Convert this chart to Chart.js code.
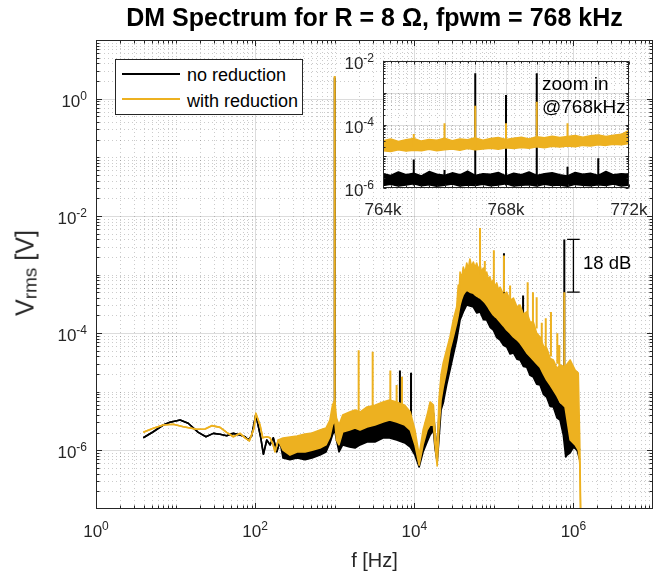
<!DOCTYPE html>
<html><head><meta charset="utf-8">
<script src="https://cdn.jsdelivr.net/npm/chart.js@4.4.1/dist/chart.umd.min.js"></script>
<style>
html,body{margin:0;padding:0;background:#fff;}
#wrap{position:relative;width:657px;height:573px;overflow:hidden;font-family:"Liberation Sans",Arial,Helvetica,sans-serif;color:#262626;}
canvas{position:absolute;}
.t{position:absolute;white-space:nowrap;line-height:1;}
</style></head><body>
<div id="wrap">
<canvas id="main" width="657" height="573" style="left:0;top:0;width:657px;height:573px"></canvas>
<canvas id="inset" width="327" height="180" style="left:330px;top:45px;width:327px;height:180px"></canvas>
<div class="t" style="left:96px;width:557px;text-align:center;top:5px;font-size:25px;font-weight:bold;color:#000">DM Spectrum for R = 8 Ω, fpwm = 768 kHz</div>
<div class="t" style="left:96px;width:557px;text-align:center;top:550px;font-size:20px;">f [Hz]</div>
<div class="t" style="left:25px;top:273px;font-size:25px;transform:translate(-50%,-50%) rotate(-90deg);">V<span style="font-size:19px;position:relative;top:3px;">rms</span> [V]</div>
<div style="position:absolute;left:115px;top:59px;width:188px;height:56px;box-sizing:border-box;border:1px solid #262626;background:#fff;">
  <div style="position:absolute;left:6px;top:13px;width:58px;height:2px;background:#000"></div>
  <div class="t" style="left:71px;top:6px;font-size:18px;color:#000">no reduction</div>
  <div style="position:absolute;left:6px;top:38px;width:58px;height:2px;background:#EDB120"></div>
  <div class="t" style="left:71px;top:32px;font-size:18px;color:#000">with reduction</div>
</div>
<div class="t" style="left:542px;top:74px;font-size:19px;color:#000">zoom in</div>
<div class="t" style="left:542px;top:97px;font-size:19px;color:#000">@768kHz</div>
<div class="t" style="left:583px;top:254px;font-size:18.5px;color:#000">18 dB</div>
</div>
<script>
// ---------------- main spectrum: no reduction (black) ----------------
const freqNR = [3.93,5.25,7.0,8.5,11.4,14.4,19.3,24.1,29.8,36.2,43.9,53.2,64.5,74.6,82,90.5,102,117,127,140,154,169,187,205,
 224,274,336,424,519,653,777,870,938,1000,
 1052,1132,1260,1540,1800,2080,2550,3200,4050,4900,
 6000,7600,8900,10200,11500,12900,14500,15800,17400,18200,
 19400,20400,21700,23100,25500,28100,30900,34100,37600,41300,
 45600,50000,55200,61000,67000,74000,81300,90000,98400,108000,
 119800,132000,145000,160000,176000,195000,213000,235000,259000,285000,
 313000,345000,380000,420000,461000,510000,559000,620000,678000,746000,
 800000,830000,910000,1000000,1110000,1200000];
const hiNR = [1.64e-6,2.08e-6,2.71e-6,3.01e-6,3.29e-6,2.90e-6,2.03e-6,1.71e-6,1.95e-6,1.88e-6,1.78e-6,1.95e-6,1.83e-6,1.71e-6,1.50e-6,1.78e-6,4.1e-6,1.71e-6,8.6e-7,1.50e-6,1.24e-6,1.64e-6,9.5e-7,1.41e-6,
 1.24e-6,1.10e-6,1.14e-6,1.01e-6,1.14e-6,1.34e-6,1.50e-6,2.22e-6,3.29e-6,4.0e-6,
 2.70e-6,1.83e-6,2.50e-6,2.70e-6,2.70e-6,2.70e-6,2.93e-6,3.04e-6,3.29e-6,3.29e-6,
 3.04e-6,2.70e-6,2.22e-6,1.50e-6,7.4e-7,1.50e-6,2.40e-6,3.29e-6,4.35e-6,2.22e-6,
 9.4e-7,4.0e-6,1.07e-5,1.20e-5,2.34e-5,5.2e-5,8.6e-5,1.49e-4,3.02e-4,4.5e-4,
 5.4e-4,5.0e-4,4.8e-4,4.4e-4,3.97e-4,3.5e-4,3.02e-4,2.5e-4,2.04e-4,1.75e-4,
 1.55e-4,1.3e-4,1.13e-4,9.5e-5,8.6e-5,7.5e-5,6.8e-5,5.5e-5,4.6e-5,4.0e-5,
 3.48e-5,3.0e-5,2.63e-5,2.0e-5,1.58e-5,1.3e-5,1.07e-5,8.0e-6,5.9e-6,6.7e-6,
 4.9e-6,2.70e-6,1.69e-6,2.50e-6,1.50e-6,1.01e-6];
const loNR = [1.64e-6,2.08e-6,2.71e-6,3.01e-6,3.29e-6,2.90e-6,2.03e-6,1.71e-6,1.95e-6,1.88e-6,1.78e-6,1.95e-6,1.83e-6,1.71e-6,1.50e-6,1.78e-6,4.1e-6,1.71e-6,8.6e-7,1.50e-6,1.24e-6,1.64e-6,9.5e-7,1.41e-6,
 7.4e-7,6.9e-7,7.4e-7,6.9e-7,7.4e-7,8.3e-7,9.4e-7,1.34e-6,1.83e-6,2.22e-6,
 1.50e-6,9.4e-7,1.24e-6,1.14e-6,1.10e-6,1.24e-6,1.39e-6,1.39e-6,1.63e-6,1.63e-6,
 1.50e-6,1.34e-6,1.14e-6,8.3e-7,5.2e-7,9.4e-7,1.39e-6,1.83e-6,2.22e-6,1.10e-6,
 6.3e-7,1.50e-6,4.9e-6,6.4e-6,1.30e-5,2.34e-5,4.2e-5,7.6e-5,1.67e-4,2.30e-4,
 3.02e-4,2.90e-4,2.79e-4,2.2e-4,2.30e-4,1.7e-4,1.67e-4,1.25e-4,1.13e-4,8.5e-5,
 7.6e-5,6.2e-5,5.8e-5,4.4e-5,4.6e-5,3.6e-5,3.48e-5,2.7e-5,2.63e-5,1.9e-5,
 1.78e-5,1.35e-5,1.30e-5,9.0e-6,8.1e-6,5.6e-6,5.5e-6,3.6e-6,3.29e-6,1.83e-6,
 7.7e-7,8.3e-7,9.1e-7,1.14e-6,1.01e-6,6.9e-7];
const spikeFreqNR = [1000,6600,9100,134000,233000,768000,1110000];
const spikeTopNR  = [2.3,2.3e-5,2.1e-5,2.3e-3,4.4e-4,3.97e-3,2.2e-5];
const spikeBaseNR = [3.0e-6,3.0e-6,2.5e-6,1.2e-4,5.0e-5,5.0e-6,1.0e-6];

// ---------------- main spectrum: with reduction (orange) ----------------
const freqWR = [3.93,5.25,7.0,9.36,12.5,18.4,23.5,28.5,36.2,43.9,53.2,64.5,74.6,84.5,96.8,102,115,124.5,140,154,166,178,195,
 224,274,336,424,519,653,777,870,938,1000,
 1052,1132,1260,1540,1800,2080,2550,3200,4050,4900,
 6000,7600,8900,10200,11500,12900,14500,15800,17400,18200,
 19400,20400,21700,23100,25500,28100,30900,34100,35700,36600,
 37600,39400,41300,43400,45600,47800,50000,52500,55200,58000,
 60800,64000,67000,70200,73600,77400,81300,85000,89000,93500,
 98400,103000,108600,114000,119800,132000,145000,160000,176000,195000,
 213000,235000,259000,285000,313000,345000,380000,420000,461000,510000,
 559000,620000,678000,784000,910000,1050000,1150000,1200000,1260000];
const hiWR = [2.03e-6,2.38e-6,2.71e-6,2.79e-6,2.53e-6,2.29e-6,2.32e-6,2.64e-6,2.47e-6,2.03e-6,1.71e-6,1.95e-6,1.64e-6,1.45e-6,2.38e-6,4.3e-6,2.71e-6,1.64e-6,1.71e-6,1.64e-6,1.32e-6,9.5e-7,1.50e-6,
 1.63e-6,1.69e-6,1.76e-6,1.90e-6,1.98e-6,2.22e-6,2.40e-6,3.29e-6,5.9e-6,7.2e-6,
 3.57e-6,2.70e-6,4.0e-6,4.5e-6,4.9e-6,4.5e-6,5.5e-6,5.9e-6,6.7e-6,7.2e-6,
 6.7e-6,5.9e-6,4.5e-6,2.22e-6,8.3e-7,2.22e-6,4.0e-6,6.7e-6,5.9e-6,2.22e-6,
 8.3e-7,7.2e-6,1.93e-5,3.1e-5,5.2e-5,8.6e-5,1.67e-4,2.79e-4,6.6e-4,4.8e-4,
 1.10e-3,8.5e-4,1.34e-3,1.05e-3,1.57e-3,1.25e-3,1.84e-3,1.35e-3,1.63e-3,1.30e-3,
 1.57e-3,1.20e-3,1.45e-3,1.10e-3,1.29e-3,1.05e-3,1.10e-3,8.3e-4,9.1e-4,7.2e-4,
 8.1e-4,6.2e-4,7.2e-4,5.5e-4,6.1e-4,4.5e-4,5.0e-4,3.6e-4,3.97e-4,2.8e-4,
 3.02e-4,2.1e-4,2.30e-4,1.55e-4,1.55e-4,1.0e-4,8.6e-5,6.0e-5,5.6e-5,3.7e-5,
 3.48e-5,2.5e-5,2.86e-5,2.64e-5,3.48e-5,2.34e-5,2.08e-5,1.50e-6,1e-8];
const loWR = [2.03e-6,2.38e-6,2.71e-6,2.79e-6,2.53e-6,2.29e-6,2.32e-6,2.64e-6,2.47e-6,2.03e-6,1.71e-6,1.95e-6,1.64e-6,1.45e-6,2.38e-6,4.3e-6,2.71e-6,1.64e-6,1.71e-6,1.64e-6,1.32e-6,9.5e-7,1.50e-6,
 1.01e-6,8.3e-7,9.4e-7,9.4e-7,1.01e-6,1.10e-6,1.24e-6,1.69e-6,2.70e-6,3.29e-6,
 1.50e-6,1.24e-6,2.06e-6,2.22e-6,2.40e-6,2.22e-6,2.50e-6,2.70e-6,3.04e-6,3.29e-6,
 3.04e-6,2.70e-6,2.22e-6,1.24e-6,5.6e-7,1.24e-6,2.22e-6,2.70e-6,2.70e-6,1.24e-6,
 5.4e-7,2.22e-6,7.2e-6,1.20e-5,2.34e-5,5.2e-5,8.6e-5,1.49e-4,2.04e-4,2.5e-4,
 3.02e-4,3.8e-4,4.5e-4,5.0e-4,5.4e-4,5.2e-4,5.0e-4,4.9e-4,4.8e-4,4.5e-4,
 4.3e-4,4.1e-4,3.97e-4,3.75e-4,3.53e-4,3.3e-4,3.02e-4,2.75e-4,2.48e-4,2.25e-4,
 2.04e-4,1.92e-4,1.82e-4,1.68e-4,1.55e-4,1.33e-4,1.13e-4,1.0e-4,8.6e-5,7.7e-5,
 6.8e-5,5.6e-5,4.6e-5,4.0e-5,3.47e-5,3.0e-5,2.63e-5,2.0e-5,1.58e-5,1.3e-5,
 1.07e-5,8.5e-6,6.7e-6,5.5e-6,1.50e-6,1.24e-6,1.01e-6,6.1e-7,1e-8];
const spikeFreqWR = [1000,2000,3000,5000,6000,7000,67000,77000,100000,134000,160000,266000,310000,345000,400000,449000,522000,627000,665000,768000];
const spikeTopWR  = [2.43,5.1e-5,4.8e-5,2.3e-5,1.3e-5,1.8e-5,6.2e-3,1.7e-3,2.6e-3,2.1e-3,6.5e-4,7.4e-4,5.0e-4,4.1e-4,1.5e-4,1.8e-4,2.3e-4,1.0e-4,6.3e-5,5.0e-4];
const spikeBaseWR = [3.3e-6,4.5e-6,5.0e-6,6.0e-6,6.0e-6,6.0e-6,1.0e-3,8.0e-4,6.0e-4,5.0e-4,3.0e-4,2.0e-4,1.5e-4,1.2e-4,6.0e-5,5.0e-5,4.0e-5,3.0e-5,2.8e-5,2.5e-5];

// 18 dB marker
const dbBarFreq = 1e6, dbBarTop = 3.97e-3, dbBarBottom = 5.0e-4;

// ---------------- inset (zoom around 768 kHz) ----------------
const insetFreq = [764000,764250,764500,764750,765000,765250,765500,765750,766000,766250,766500,766750,767000,767250,767500,767750,
 768000,768250,768500,768750,769000,769250,769500,769750,770000,770250,770500,770750,771000,771250,771500,771750,772000];
const insetHiNR = [2.8e-6,2.5e-6,3.2e-6,2.6e-6,2.9e-6,2.4e-6,3.3e-6,2.7e-6,2.5e-6,3.0e-6,2.6e-6,3.4e-6,2.5e-6,2.8e-6,2.7e-6,3.1e-6,
 2.4e-6,2.9e-6,2.6e-6,3.2e-6,2.5e-6,2.8e-6,3.0e-6,2.6e-6,2.4e-6,3.1e-6,2.7e-6,2.9e-6,2.5e-6,3.3e-6,2.6e-6,2.8e-6,2.7e-6];
const insetLoNR = [1.2e-6,1.3e-6,1.15e-6,1.25e-6,1.35e-6,1.17e-6,1.27e-6,1.13e-6,1.23e-6,1.33e-6,1.15e-6,1.25e-6,1.2e-6,1.3e-6,1.17e-6,1.25e-6,
 1.35e-6,1.15e-6,1.23e-6,1.27e-6,1.15e-6,1.31e-6,1.2e-6,1.25e-6,1.13e-6,1.3e-6,1.23e-6,1.17e-6,1.27e-6,1.2e-6,1.33e-6,1.15e-6,1.25e-6];
const insetHiWR = [3.1e-5,3.5e-5,2.9e-5,3.3e-5,3.6e-5,3.0e-5,3.4e-5,3.2e-5,3.7e-5,3.1e-5,3.5e-5,3.3e-5,3.8e-5,3.2e-5,3.6e-5,3.9e-5,
 3.4e-5,3.7e-5,4.0e-5,3.5e-5,4.1e-5,3.8e-5,4.3e-5,3.9e-5,4.2e-5,4.5e-5,4.0e-5,4.4e-5,4.7e-5,4.2e-5,4.6e-5,4.9e-5,6.5e-5];
const insetLoWR = [1.5e-5,1.4e-5,1.6e-5,1.45e-5,1.55e-5,1.5e-5,1.65e-5,1.5e-5,1.6e-5,1.7e-5,1.55e-5,1.75e-5,1.6e-5,1.7e-5,1.8e-5,1.65e-5,
 1.85e-5,1.75e-5,1.9e-5,1.8e-5,2.0e-5,1.85e-5,2.05e-5,1.95e-5,2.1e-5,2.0e-5,2.2e-5,2.1e-5,2.3e-5,2.2e-5,2.4e-5,2.3e-5,2.5e-5];
const insetSpikeFreqNR = [765000,766000,767000,768000,769000,770000,771000];
const insetSpikeTopNR  = [7.9e-6,3.7e-6,4.1e-3,8.5e-4,4.1e-3,4.7e-6,8.7e-6];
const insetSpikeBaseNR = [1.2e-6,1.2e-6,1.2e-6,1.2e-6,1.2e-6,1.2e-6,1.2e-6];
const insetSpikeFreqWR = [765000,766000,767000,768000,769000,770000];
const insetSpikeTopWR  = [5.0e-5,1.1e-4,3.9e-4,1.1e-4,5.2e-4,1.1e-4];
const insetSpikeBaseWR = [2.0e-5,2.0e-5,2.0e-5,2.2e-5,2.3e-5,2.4e-5];

// ---------------- tick labels ----------------
const mainXTicks = [1,1e2,1e4,1e6];
const mainXTickExp = ['0','2','4','6'];
const mainYTicks = [1,1e-2,1e-4,1e-6];
const mainYTickExp = ['0','-2','-4','-6'];
const insetXTicks = [764000,765000,766000,767000,768000,769000,770000,771000,772000];
const insetXTickLabels = ['764k','','','','768k','','','','772k'];
const insetYTicks = [1e-2,1e-3,1e-4,1e-5,1e-6];
const insetYTickExp = ['-2','','-4','','-6'];

const BLACK = '#000000', ORANGE = '#EDB120', INK = '#262626';
const FONT = '"Liberation Sans", Arial, Helvetica, sans-serif';

function pts(f, v){ return f.map((x,i)=>({x:x, y:v[i]})); }
function spikes(f, top, base){ const d=[]; f.forEach((x,i)=>{ d.push({x:x,y:base[i]},{x:x,y:top[i]},{x:x,y:null}); }); return d; }
function logMinor(e0, e1, skip){ const out=[]; for(let e=e0;e<=e1;e++){ for(let k=1;k<=9;k++){ const v=k*Math.pow(10,e); if(!skip.some(s=>Math.abs(s-v)/v<1e-9)) out.push(v);} } return out; }

function drawPow(ctx, exp, anchor, baseY, align, fs, efs, rise){
  ctx.font = fs+'px '+FONT; const w1 = ctx.measureText('10').width;
  ctx.font = efs+'px '+FONT; const w2 = ctx.measureText(exp).width;
  const x0 = align==='center' ? anchor-(w1+w2)/2 : anchor-(w1+w2);
  ctx.font = fs+'px '+FONT; ctx.fillText('10', x0, baseY);
  ctx.font = efs+'px '+FONT; ctx.fillText(exp, x0+w1, baseY-rise);
}

function axesPlugin(cfg){
  return {
    id: 'matlabAxes',
    beforeDatasetsDraw(chart){
      const ctx=chart.ctx, a=chart.chartArea, xs=chart.scales.x, ys=chart.scales.y;
      ctx.save();
      ctx.fillStyle='#fff'; ctx.fillRect(a.left,a.top,a.right-a.left,a.bottom-a.top);
      ctx.lineWidth=1;
      ctx.setLineDash([1,3]); ctx.strokeStyle='rgba(38,38,38,0.24)';
      ctx.beginPath();
      cfg.xMinor.forEach(v=>{ const p=Math.round(xs.getPixelForValue(v))+0.5; if(p>a.left+1&&p<a.right-1){ctx.moveTo(p,a.top);ctx.lineTo(p,a.bottom);} });
      cfg.yMinor.forEach(v=>{ const p=Math.round(ys.getPixelForValue(v))+0.5; if(p>a.top+1&&p<a.bottom-1){ctx.moveTo(a.left,p);ctx.lineTo(a.right,p);} });
      ctx.stroke();
      ctx.setLineDash([]); ctx.strokeStyle='rgba(38,38,38,0.16)';
      ctx.beginPath();
      cfg.xMajor.forEach(v=>{ const p=Math.round(xs.getPixelForValue(v))+0.5; if(p>a.left+1&&p<a.right-1){ctx.moveTo(p,a.top);ctx.lineTo(p,a.bottom);} });
      cfg.yMajor.forEach(v=>{ const p=Math.round(ys.getPixelForValue(v))+0.5; if(p>a.top+1&&p<a.bottom-1){ctx.moveTo(a.left,p);ctx.lineTo(a.right,p);} });
      ctx.stroke();
      ctx.restore();
    },
    afterDatasetsDraw(chart){
      const ctx=chart.ctx, a=chart.chartArea, xs=chart.scales.x, ys=chart.scales.y;
      ctx.save();
      ctx.strokeStyle=INK; ctx.lineWidth=1;
      const L=Math.round(a.left)+0.5, R=Math.round(a.right)-0.5, T=Math.round(a.top)+0.5, B=Math.round(a.bottom)-0.5;
      ctx.beginPath();
      const tx=(vals,len)=>vals.forEach(v=>{ const p=Math.round(xs.getPixelForValue(v))+0.5; ctx.moveTo(p,B);ctx.lineTo(p,B-len);ctx.moveTo(p,T);ctx.lineTo(p,T+len); });
      const ty=(vals,len)=>vals.forEach(v=>{ const p=Math.round(ys.getPixelForValue(v))+0.5; ctx.moveTo(L,p);ctx.lineTo(L+len,p);ctx.moveTo(R,p);ctx.lineTo(R-len,p); });
      tx(cfg.xMajor,cfg.majLen); tx(cfg.xMinor,cfg.minLen); ty(cfg.yMajor,cfg.majLen); ty(cfg.yMinor,cfg.minLen);
      ctx.stroke();
      ctx.strokeRect(L,T,R-L,B-T);
      ctx.restore();
    },
    afterDraw(chart){
      const ctx=chart.ctx, a=chart.chartArea, xs=chart.scales.x, ys=chart.scales.y;
      ctx.save(); ctx.fillStyle=INK; ctx.textBaseline='alphabetic'; ctx.textAlign='left';
      cfg.xLabels.forEach(o=>{
        const p=xs.getPixelForValue(o.v);
        if(o.exp!==undefined) drawPow(ctx,o.exp,p,a.bottom+cfg.xBase,'center',cfg.fs,cfg.efs,cfg.rise);
        else if(o.text){ ctx.font=cfg.fs+'px '+FONT; const w=ctx.measureText(o.text).width; ctx.fillText(o.text,p-w/2,a.bottom+cfg.xBase); }
      });
      cfg.yLabels.forEach(o=>{ if(!o.exp) return; const p=ys.getPixelForValue(o.v); drawPow(ctx,o.exp,a.left-cfg.yGap,p+cfg.yBase,'right',cfg.fs,cfg.efs,cfg.rise); });
      ctx.restore();
    }
  };
}

function lineDs(data, color, width, order, fill){
  return { data:data, borderColor:color, backgroundColor:color, borderWidth:width, pointRadius:0, tension:0,
           fill: fill||false, order:order, borderJoinStyle:'round', borderCapStyle:'butt', spanGaps:false };
}

// ---------- main chart ----------
const mainCfg = {
  xMajor: mainXTicks, yMajor: mainYTicks,
  xMinor: logMinor(0,6,[1,1e2,1e4,1e6]), yMinor: logMinor(-7,0,[1e-7,1,1e-2,1e-4,1e-6]),
  majLen: 5.5, minLen: 3,
  xLabels: mainXTicks.map((v,i)=>({v:v,exp:mainXTickExp[i]})),
  yLabels: mainYTicks.map((v,i)=>({v:v,exp:mainYTickExp[i]})),
  fs: 17, efs: 12, rise: 7, xBase: 28, yBase: 8, yGap: 9
};
new Chart(document.getElementById('main'), {
  type:'line',
  data:{ datasets:[
    lineDs(pts(freqWR,hiWR), ORANGE, 1.6, 1, '+1'),
    lineDs(pts(freqWR,loWR), ORANGE, 1.6, 2),
    lineDs(spikes(spikeFreqWR,spikeTopWR,spikeBaseWR), ORANGE, 2, 0),
    lineDs(pts(freqNR,hiNR), BLACK, 1.6, 4, '+1'),
    lineDs(pts(freqNR,loNR), BLACK, 1.6, 5),
    lineDs(spikes(spikeFreqNR,spikeTopNR,spikeBaseNR), BLACK, 2, 3),
    lineDs([{x:dbBarFreq,y:dbBarBottom},{x:dbBarFreq,y:dbBarTop},{x:dbBarFreq,y:null},
            {x:dbBarFreq/1.2,y:dbBarTop},{x:dbBarFreq*1.2,y:dbBarTop},{x:dbBarFreq,y:null},
            {x:dbBarFreq/1.2,y:dbBarBottom},{x:dbBarFreq*1.2,y:dbBarBottom}], BLACK, 1.3, -1)
  ]},
  options:{
    responsive:false, animation:false, devicePixelRatio:1,
    layout:{ padding:{left:96,right:4,top:40,bottom:64} },
    scales:{
      x:{ type:'logarithmic', min:1, max:1e7, display:false },
      y:{ type:'logarithmic', min:1e-7, max:10, display:false }
    },
    plugins:{ legend:{display:false}, tooltip:{enabled:false}, title:{display:false} }
  },
  plugins:[axesPlugin(mainCfg)]
});

// ---------- inset chart ----------
const insetXMinor = []; for(let f=764250; f<772000; f+=250){ if(f%1000!==0) insetXMinor.push(f); }
const insetCfg = {
  xMajor: insetXTicks, yMajor: insetYTicks,
  xMinor: insetXMinor, yMinor: logMinor(-6,-3,[1e-6,1e-5,1e-4,1e-3]),
  majLen: 3, minLen: 2,
  xLabels: insetXTicks.map((v,i)=>({v:v,text:insetXTickLabels[i]})),
  yLabels: insetYTicks.map((v,i)=>({v:v,exp:insetYTickExp[i]})),
  fs: 17, efs: 12, rise: 7, xBase: 27, yBase: 8, yGap: 9
};
new Chart(document.getElementById('inset'), {
  type:'line',
  data:{ datasets:[
    lineDs(pts(insetFreq,insetHiWR), ORANGE, 1.5, 1, '+1'),
    lineDs(pts(insetFreq,insetLoWR), ORANGE, 1.5, 2),
    lineDs(spikes(insetSpikeFreqWR,insetSpikeTopWR,insetSpikeBaseWR), ORANGE, 2, 0),
    lineDs(pts(insetFreq,insetHiNR), BLACK, 1.5, 4, '+1'),
    lineDs(pts(insetFreq,insetLoNR), BLACK, 1.5, 5),
    lineDs(spikes(insetSpikeFreqNR,insetSpikeTopNR,insetSpikeBaseNR), BLACK, 2, 3)
  ]},
  options:{
    responsive:false, animation:false, devicePixelRatio:1,
    layout:{ padding:{left:53,right:28,top:16,bottom:37} },
    scales:{
      x:{ type:'linear', min:764000, max:772000, display:false },
      y:{ type:'logarithmic', min:1e-6, max:1e-2, display:false }
    },
    plugins:{ legend:{display:false}, tooltip:{enabled:false}, title:{display:false} }
  },
  plugins:[axesPlugin(insetCfg)]
});
</script>
</body></html>
